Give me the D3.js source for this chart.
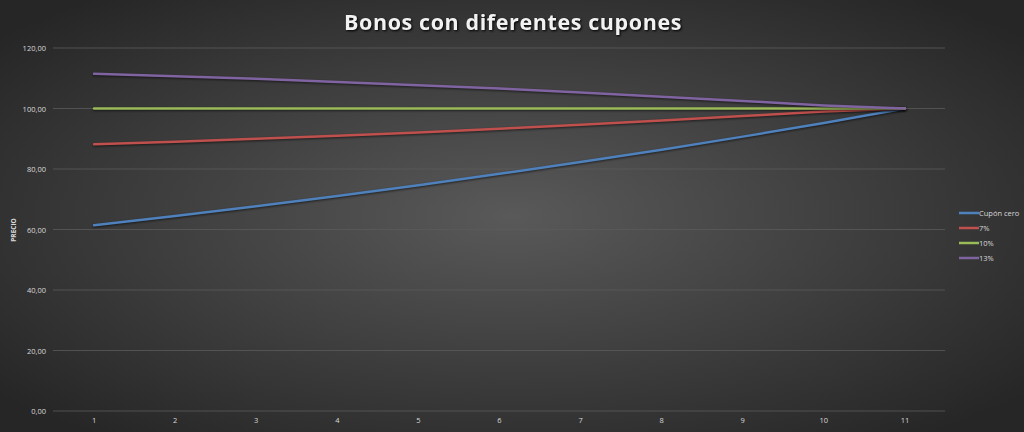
<!DOCTYPE html>
<html><head><meta charset="utf-8">
<script src="https://cdn.jsdelivr.net/npm/d3@7"></script>
<style>body{margin:0;background:#333}</style></head>
<body><div id="chart"></div>
<script>
const years = [1, 2, 3, 4, 5, 6, 7, 8, 9, 10, 11];
const cuponCero = [61.4, 64.5, 67.7, 71.1, 74.6, 78.4, 82.3, 86.4, 90.7, 95.2, 100];
const c7 = [88.2, 89.0, 90.0, 91.0, 92.1, 93.3, 94.6, 96.0, 97.5, 99.0, 100];
const c10 = [100, 100, 100, 100, 100, 100, 100, 100, 100, 100, 100];
const c13 = [111.5, 110.7, 109.8, 108.8, 107.7, 106.6, 105.3, 103.9, 102.5, 101.0, 100];
const yTicks = [0, 20, 40, 60, 80, 100, 120];
const series = [
  { name: "Cupón cero", values: cuponCero, color: "#4f81bd" },
  { name: "7%", values: c7, color: "#c0504d" },
  { name: "10%", values: c10, color: "#9bbb59" },
  { name: "13%", values: c13, color: "#8064a2" },
];

const width = 1024, height = 432;
const svg = d3.select("#chart").append("svg").attr("width", width).attr("height", height);
const defs = svg.append("defs");
const grad = defs.append("radialGradient").attr("id", "bg").attr("cx", "50%").attr("cy", "50%").attr("r", "65%");
grad.append("stop").attr("offset", "0%").attr("stop-color", "#595959");
grad.append("stop").attr("offset", "100%").attr("stop-color", "#262626");
svg.append("rect").attr("width", width).attr("height", height).attr("fill", "url(#bg)");

const x = d3.scaleBand().domain(years).range([53.5, 945.5]);
const y = d3.scaleLinear().domain([0, 120]).range([411, 48]);
const fmt = (v) => v.toFixed(2).replace(".", ",");

// grid
svg.append("g").selectAll("line").data(yTicks).join("line")
  .attr("x1", 53).attr("x2", 945)
  .attr("y1", (d) => y(d)).attr("y2", (d) => y(d))
  .attr("stroke", "#5a5a5a").attr("stroke-width", 0.8);

svg.append("g").selectAll("text").data(yTicks).join("text")
  .attr("x", 46).attr("y", (d) => y(d) + 3)
  .attr("text-anchor", "end").attr("fill", "#d9d9d9")
  .style("font", "7.5px 'Open Sans', sans-serif").text(fmt);

svg.append("g").selectAll("text").data(years).join("text")
  .attr("x", (d) => x(d) + x.bandwidth() / 2).attr("y", 423)
  .attr("text-anchor", "middle").attr("fill", "#d9d9d9")
  .style("font", "7.5px 'Open Sans', sans-serif").text((d) => d);

svg.append("text").attr("transform", "translate(16,230) rotate(-90)")
  .attr("text-anchor", "middle").attr("fill", "#d9d9d9")
  .style("font", "bold 6.5px 'Open Sans', sans-serif").text("PRECIO");

svg.append("text").attr("x", 513).attr("y", 30).attr("text-anchor", "middle")
  .attr("fill", "#f2f2f2").style("font", "bold 21.5px 'Open Sans', sans-serif")
  .style("letter-spacing", "0.6px")
  .style("filter", "drop-shadow(1px 1px 1px #000)").text("Bonos con diferentes cupones");

const line = d3.line().x((d, i) => x(years[i]) + x.bandwidth() / 2).y((d) => y(d));
series.forEach((s) => {
  svg.append("path").datum(s.values).attr("d", line)
    .attr("fill", "none").attr("stroke", s.color).attr("stroke-width", 2.5)
    .attr("stroke-linecap", "round")
    .style("filter", "drop-shadow(0.5px 1px 1px rgba(0,0,0,0.6))");
});

const leg = svg.append("g").attr("transform", "translate(959,213)");
series.forEach((s, i) => {
  const g = leg.append("g").attr("transform", `translate(0,${i * 15})`);
  g.append("line").attr("x1", 0).attr("x2", 20).attr("stroke", s.color).attr("stroke-width", 2.5);
  g.append("text").attr("x", 20).attr("y", 3).attr("fill", "#d9d9d9")
    .style("font", "7.5px 'Open Sans', sans-serif").text(s.name);
});
</script></body></html>
